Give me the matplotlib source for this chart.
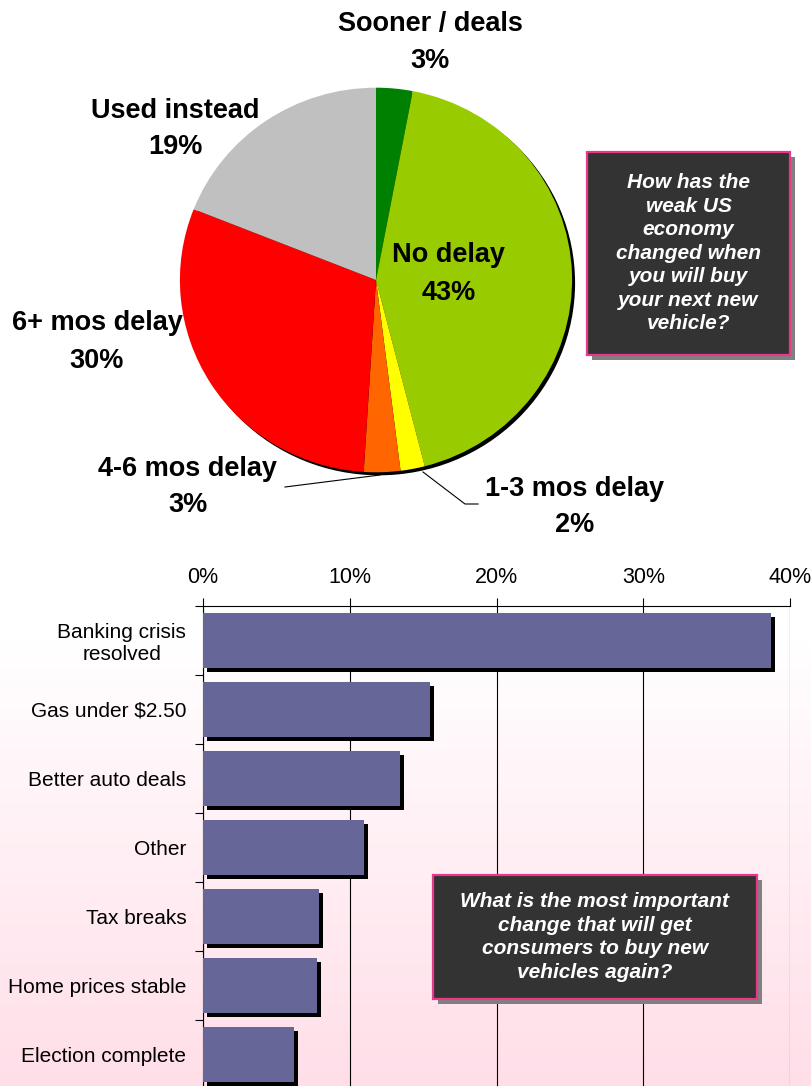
import matplotlib.pyplot as plt
import matplotlib.transforms as mtransforms
from matplotlib.patches import Rectangle, Ellipse
from matplotlib.lines import Line2D
import numpy as np

plt.rcParams['font.family'] = ['Liberation Sans', 'DejaVu Sans']

# pie data
pie_labels = ['Sooner / deals', 'No delay', '1-3 mos delay', '4-6 mos delay', '6+ mos delay', 'Used instead']
pie_values = [3, 43, 2, 3, 30, 19]
pie_colors = ['#008000', '#99cc00', '#ffff00', '#ff6600', '#ff0000', '#c0c0c0']

# bar data
bar_labels = ['Banking crisis\nresolved', 'Gas under $2.50', 'Better auto deals', 'Other',
              'Tax breaks', 'Home prices stable', 'Election complete']
bar_values = [38.7, 15.5, 13.4, 11.0, 7.9, 7.8, 6.2]
bar_ticks = [0, 10, 20, 30, 40]

W, H = 811, 1086
fig = plt.figure(figsize=(W / 100, H / 100), dpi=100)


def fx(x):
    return x / W


def fy(y):
    return 1 - y / H


# background: white top, pink towards the bottom
bg = fig.add_axes([0, 0, 1, 1], zorder=-10)
rows = np.arange(H)
t = np.clip((rows - 640) / (H - 640), 0, 1)
pink = np.array([255, 222, 232]) / 255
grad = (1 - t)[:, None] * np.ones(3) + t[:, None] * pink
bg.imshow(grad[:, None, :], aspect='auto', extent=[0, 1, 0, 1])
bg.axis('off')

# ---- pie ----
axp = fig.add_axes([fx(176), fy(480), 400 / W, 400 / H])
axp.set_facecolor('none')
shadow = Ellipse((0, 0), 2, 2, facecolor='black', edgecolor='none',
                 transform=axp.transData + mtransforms.ScaledTranslation(3 / 100, -3 / 100, fig.dpi_scale_trans))
axp.add_patch(shadow)
axp.pie(pie_values, colors=pie_colors, startangle=90, counterclock=False, radius=1,
        wedgeprops=dict(linewidth=0, edgecolor='none'))
axp.set_aspect('auto')
axp.set_xlim(-1.02, 1.02)
axp.set_ylim(-1.04, 1.04)
axp.axis('off')

# pie labels (pixel positions of the text centres)
label_pos = [(430, 43), (449, 274), (575, 507), (188, 487), (97, 342), (175, 129)]
for lab, v, (x, y) in zip(pie_labels, pie_values, label_pos):
    fig.text(fx(x), fy(y), '%s\n%d%%' % (lab, v), ha='center', va='center',
             fontsize=19.5, fontweight='bold', linespacing=1.55)

fig.add_artist(Line2D([fx(380), fx(285)], [fy(475), fy(487)], color='black', lw=0.8,
                      transform=fig.transFigure))
fig.add_artist(Line2D([fx(423), fx(465), fx(478)], [fy(472), fy(504), fy(504)], color='black', lw=0.8,
                      transform=fig.transFigure))


def question_box(x0, y0, x1, y1, text):
    sh = Rectangle((fx(x0 + 5), fy(y1 + 5)), (x1 - x0) / W, (y1 - y0) / H,
                   transform=fig.transFigure, facecolor='#808080', edgecolor='none', zorder=5)
    box = Rectangle((fx(x0), fy(y1)), (x1 - x0) / W, (y1 - y0) / H,
                    transform=fig.transFigure, facecolor='#333333', edgecolor='#e8388c',
                    linewidth=1.6, zorder=6)
    fig.add_artist(sh)
    fig.add_artist(box)
    fig.text(fx((x0 + x1) / 2), fy((y0 + y1) / 2), text, ha='center', va='center',
             color='white', fontsize=15, fontweight='bold', fontstyle='italic',
             linespacing=1.3, zorder=7)


question_box(587, 152, 790, 355,
             'How has the\nweak US\neconomy\nchanged when\nyou will buy\nyour next new\nvehicle?')

# ---- bars ----
axb = fig.add_axes([fx(203), fy(1089), 587 / W, (1089 - 606) / H])
axb.set_facecolor('none')
y = np.arange(len(bar_values))
off = mtransforms.ScaledTranslation(4 / 100, -4 / 100, fig.dpi_scale_trans)
axb.barh(y, bar_values, height=0.8, color='black', transform=axb.transData + off, zorder=2)
axb.barh(y, bar_values, height=0.8, color='#666699', zorder=3)
axb.set_xlim(0, 40)
axb.set_ylim(len(bar_values) - 0.5, -0.5)
axb.set_xticks(bar_ticks)
axb.set_xticklabels(['%d%%' % v for v in bar_ticks])
axb.xaxis.tick_top()
axb.tick_params(axis='x', direction='out', length=6, width=0.8, labelsize=15.5, pad=7)
axb.set_yticks(y)
axb.set_yticklabels(bar_labels, multialignment='center')
axb.tick_params(axis='y', which='major', length=0, labelsize=15, pad=12)
axb.set_yticks(np.arange(-0.5, len(bar_values)), minor=True)
axb.tick_params(axis='y', which='minor', direction='out', length=6, width=0.8)
axb.xaxis.grid(True, color='black', lw=0.8, zorder=1)
axb.set_axisbelow(True)
for s in ['right', 'bottom']:
    axb.spines[s].set_visible(False)
for s in ['top', 'left']:
    axb.spines[s].set_linewidth(0.8)

question_box(433, 875, 757, 999,
             'What is the most important\nchange that will get\nconsumers to buy new\nvehicles again?')

fig.savefig('out.png', dpi=100)
